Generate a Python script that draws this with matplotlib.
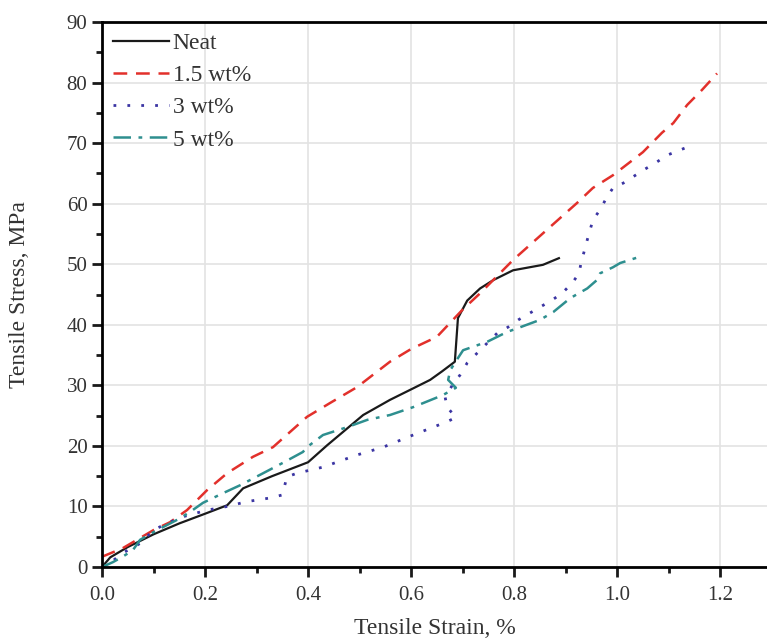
import matplotlib
matplotlib.use("Agg")
import matplotlib.pyplot as plt
from matplotlib.ticker import MultipleLocator

# Neat
neat_x = [0.0, 0.016, 0.05, 0.1, 0.15, 0.2, 0.243, 0.274, 0.33, 0.4, 0.437, 0.507, 0.559,
          0.604, 0.637, 0.66, 0.685, 0.688, 0.691, 0.709, 0.734, 0.76, 0.798, 0.856, 0.887]
neat_y = [0.0, 1.6, 3.3, 5.4, 7.2, 8.8, 10.2, 13.0, 15.0, 17.3, 20.1, 25.1, 27.6,
          29.5, 30.9, 32.3, 33.9, 37.5, 41.1, 44.0, 46.0, 47.4, 49.0, 49.9, 51.0]

# 1.5 wt%
w15_x = [0.0, 0.04, 0.074, 0.1, 0.132, 0.165, 0.204, 0.243, 0.293, 0.332, 0.398, 0.443,
         0.495, 0.559, 0.6, 0.65, 0.7, 0.734, 0.798, 0.856, 0.922, 0.953, 0.992, 1.05,
         1.087, 1.109, 1.136, 1.165, 1.194]
w15_y = [1.7, 3.1, 4.8, 6.1, 7.4, 9.4, 12.7, 15.5, 18.2, 19.8, 24.8, 27.1,
         29.7, 33.9, 36.0, 38.0, 42.5, 45.2, 50.7, 55.1, 60.1, 62.6, 64.7, 68.5,
         71.7, 73.3, 76.3, 78.8, 81.5]

# 3 wt%
w3_x = [0.0, 0.016, 0.04, 0.074, 0.1, 0.126, 0.157, 0.204, 0.243, 0.281, 0.326, 0.35,
        0.359, 0.379, 0.429, 0.495, 0.546, 0.604, 0.67, 0.687, 0.67, 0.666, 0.68, 0.695,
        0.709, 0.728, 0.748, 0.767, 0.788, 0.808, 0.85, 0.874, 0.893, 0.913, 0.926,
        0.93, 0.942, 0.953, 0.967, 0.979, 0.992, 1.012, 1.054, 1.074, 1.097, 1.138]
w3_y = [0.0, 0.7, 2.3, 3.9, 6.1, 7.2, 8.3, 9.4, 10.0, 10.8, 11.4, 11.9,
        14.9, 15.5, 16.5, 18.5, 19.8, 21.8, 24.0, 24.7, 26.4, 28.1, 30.0, 31.7,
        33.7, 35.3, 37.0, 38.6, 39.6, 40.8, 42.9, 44.1, 45.2, 46.9, 48.5,
        50.2, 54.0, 57.3, 59.0, 60.9, 62.6, 63.4, 65.7, 66.7, 68.0, 69.4]

# 5 wt%
w5_x = [0.0, 0.021, 0.04, 0.06, 0.074, 0.107, 0.146, 0.171, 0.196, 0.235, 0.268, 0.313,
        0.351, 0.39, 0.398, 0.429, 0.476, 0.515, 0.559, 0.604, 0.662, 0.687, 0.672, 0.676,
        0.691, 0.701, 0.748, 0.786, 0.812, 0.85, 0.876, 0.909, 0.942, 0.961, 0.967,
        0.992, 1.006, 1.05]
w5_y = [0.0, 0.8, 1.7, 2.8, 4.5, 6.1, 7.8, 9.1, 10.6, 12.2, 13.5, 15.5,
        17.2, 19.0, 19.8, 21.8, 23.1, 24.3, 25.1, 26.4, 28.4, 29.6, 30.9, 32.5,
        34.5, 35.8, 37.2, 38.8, 39.6, 40.8, 42.1, 44.4, 46.0, 47.4, 48.5,
        49.5, 50.2, 51.4]

labels = ["Neat", "1.5 wt%", "3 wt%", "5 wt%"]

plt.rcParams['font.family'] = ['Liberation Serif', 'DejaVu Serif']

fig = plt.figure(figsize=(7.67, 6.41), dpi=100)
ax = fig.add_axes([0.133, 0.1154, 0.867, 0.8503])

ax.plot(neat_x, neat_y, color="#1a1a1a", linestyle="-", linewidth=1.6, label=labels[0])
ax.plot(w15_x, w15_y, color="#e2302b", linestyle=(0, (5.5, 3.5)), linewidth=1.8, label=labels[1])
ax.plot(w3_x, w3_y, color="#3b35a3", linestyle=(0, (1, 4)), linewidth=2.0, label=labels[2])
ax.plot(w5_x, w5_y, color="#2e8f8f", linestyle=(0, (7, 3, 1.5, 3)), linewidth=1.8, label=labels[3])

ax.set_xlim(0, 1.291)
ax.set_ylim(0, 90)
ax.xaxis.set_major_locator(MultipleLocator(0.2))
ax.xaxis.set_minor_locator(MultipleLocator(0.1))
ax.yaxis.set_major_locator(MultipleLocator(10))
ax.yaxis.set_minor_locator(MultipleLocator(5))
ax.xaxis.set_major_formatter(matplotlib.ticker.FormatStrFormatter("%.1f"))

ax.grid(True, which="major", color="#e3e3e3", linewidth=1.2)
ax.set_axisbelow(True)

for side in ["left", "bottom", "top"]:
    ax.spines[side].set_linewidth(2)
ax.spines["right"].set_visible(False)

ax.tick_params(which="major", direction="out", length=7, width=2, labelsize=15, colors="#1a1a1a", labelcolor="#333333")
ax.tick_params(axis="x", which="major", pad=7)
ax.tick_params(which="minor", direction="out", length=4, width=2, colors="#1a1a1a")

ax.set_xlabel("Tensile Strain, %", fontsize=17, color="#333333", labelpad=9)
ax.set_ylabel("Tensile Stress, MPa", fontsize=17, color="#333333", labelpad=26)

ax.legend(loc="upper left", frameon=False, fontsize=17, handlelength=2.4,
          handletextpad=0.15, labelspacing=0.45, borderaxespad=0.15, borderpad=0.3,
          labelcolor="#333333")

fig.savefig("out.png", dpi=100)
